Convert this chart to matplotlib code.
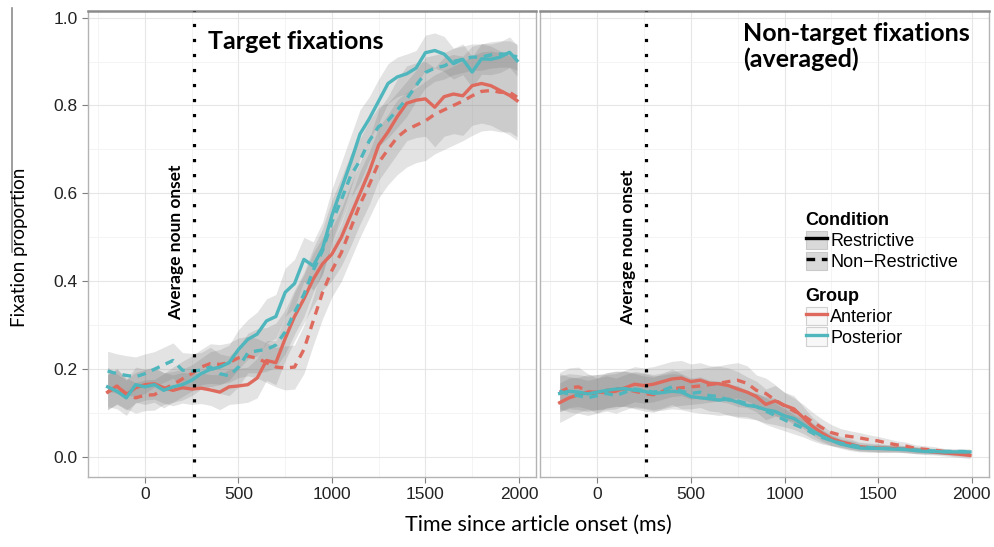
import numpy as np
import matplotlib
matplotlib.use("Agg")
import matplotlib.pyplot as plt
from matplotlib.lines import Line2D
from matplotlib.patches import Rectangle
from matplotlib.legend_handler import HandlerTuple

plt.rcParams["font.family"] = ["Liberation Sans", "DejaVu Sans"]

# time axis (ms since article onset)
times = list(range(-200, 1951, 50)) + [1990]
noun_onset = 260

# ---- target fixations (left panel) ----
tgt_ant_res = [0.148, 0.162, 0.142, 0.158, 0.165, 0.167, 0.158, 0.152, 0.158, 0.155, 0.157, 0.153, 0.148,
               0.160, 0.162, 0.165, 0.180, 0.220, 0.215, 0.270, 0.320, 0.360, 0.405, 0.440, 0.462,
               0.500, 0.550, 0.600, 0.650, 0.710, 0.740, 0.775, 0.805, 0.812, 0.815, 0.796, 0.820,
               0.826, 0.822, 0.845, 0.850, 0.845, 0.834, 0.823, 0.811]
tgt_ant_non = [0.148, 0.160, 0.145, 0.135, 0.141, 0.142, 0.155, 0.165, 0.178, 0.190, 0.205, 0.213, 0.211,
               0.215, 0.226, 0.230, 0.225, 0.215, 0.205, 0.203, 0.205, 0.245, 0.310, 0.375, 0.425,
               0.465, 0.520, 0.575, 0.620, 0.670, 0.700, 0.728, 0.745, 0.755, 0.765, 0.780, 0.790,
               0.800, 0.810, 0.822, 0.832, 0.834, 0.830, 0.830, 0.819]
tgt_pos_res = [0.160, 0.150, 0.135, 0.165, 0.160, 0.165, 0.152, 0.160, 0.165, 0.175, 0.190, 0.200, 0.205,
               0.215, 0.245, 0.268, 0.280, 0.310, 0.320, 0.375, 0.395, 0.450, 0.435, 0.475, 0.550,
               0.610, 0.670, 0.735, 0.770, 0.810, 0.850, 0.865, 0.872, 0.885, 0.920, 0.925, 0.917,
               0.895, 0.905, 0.876, 0.906, 0.905, 0.910, 0.921, 0.902]
tgt_pos_non = [0.196, 0.190, 0.186, 0.183, 0.190, 0.200, 0.210, 0.220, 0.198, 0.196, 0.198, 0.205, 0.190,
               0.185, 0.205, 0.237, 0.242, 0.245, 0.255, 0.285, 0.330, 0.370, 0.425, 0.470, 0.535,
               0.585, 0.640, 0.675, 0.720, 0.752, 0.766, 0.790, 0.815, 0.845, 0.875, 0.885, 0.890,
               0.900, 0.905, 0.910, 0.910, 0.915, 0.917, 0.917, 0.910]

# CI half-widths for the ribbons
tgt_ant_res_ci = [0.04, 0.04, 0.035, 0.035, 0.035, 0.035, 0.035, 0.035, 0.035, 0.035, 0.035, 0.035, 0.04,
                  0.04, 0.04, 0.04, 0.045, 0.045, 0.05, 0.05, 0.055, 0.055, 0.06, 0.06, 0.06,
                  0.065, 0.07, 0.07, 0.075, 0.08, 0.08, 0.085, 0.085, 0.085, 0.085, 0.09, 0.09,
                  0.09, 0.09, 0.09, 0.09, 0.09, 0.09, 0.09, 0.09]
tgt_ant_non_ci = [0.04, 0.04, 0.035, 0.035, 0.035, 0.035, 0.035, 0.04, 0.04, 0.04, 0.04, 0.045, 0.045,
                  0.045, 0.045, 0.045, 0.045, 0.045, 0.045, 0.05, 0.05, 0.055, 0.055, 0.06, 0.06,
                  0.065, 0.07, 0.075, 0.075, 0.08, 0.08, 0.085, 0.085, 0.085, 0.09, 0.09, 0.09,
                  0.09, 0.09, 0.09, 0.09, 0.09, 0.09, 0.09, 0.09]
tgt_pos_res_ci = [0.045, 0.04, 0.04, 0.04, 0.04, 0.04, 0.04, 0.035, 0.035, 0.035, 0.035, 0.04, 0.04,
                  0.04, 0.045, 0.045, 0.05, 0.05, 0.05, 0.055, 0.055, 0.05, 0.055, 0.06, 0.06,
                  0.06, 0.06, 0.055, 0.05, 0.05, 0.045, 0.045, 0.045, 0.04, 0.04, 0.04, 0.04,
                  0.035, 0.035, 0.035, 0.035, 0.035, 0.035, 0.035, 0.035]
tgt_pos_non_ci = [0.045, 0.045, 0.045, 0.045, 0.045, 0.04, 0.04, 0.04, 0.04, 0.04, 0.04, 0.045, 0.045,
                  0.045, 0.045, 0.045, 0.05, 0.05, 0.05, 0.05, 0.05, 0.05, 0.05, 0.05, 0.05,
                  0.05, 0.05, 0.05, 0.045, 0.045, 0.04, 0.04, 0.04, 0.035, 0.035, 0.03, 0.03,
                  0.03, 0.03, 0.03, 0.03, 0.03, 0.03, 0.03, 0.03]

# ---- non-target fixations, averaged (right panel) ----
non_ant_res = [0.124, 0.135, 0.142, 0.148, 0.148, 0.148, 0.150, 0.158, 0.166, 0.163, 0.166, 0.172, 0.178,
               0.180, 0.172, 0.175, 0.168, 0.167, 0.163, 0.155, 0.148, 0.138, 0.120, 0.128, 0.118,
               0.110, 0.090, 0.070, 0.055, 0.042, 0.035, 0.030, 0.024, 0.022, 0.021, 0.020, 0.020,
               0.018, 0.016, 0.014, 0.012, 0.010, 0.008, 0.006, 0.004]
non_ant_non = [0.148, 0.158, 0.160, 0.150, 0.140, 0.152, 0.156, 0.155, 0.150, 0.145, 0.142, 0.150, 0.155,
               0.158, 0.160, 0.162, 0.165, 0.168, 0.172, 0.175, 0.168, 0.152, 0.145, 0.130, 0.117,
               0.105, 0.095, 0.080, 0.067, 0.056, 0.050, 0.047, 0.044, 0.040, 0.037, 0.032, 0.028,
               0.025, 0.020, 0.018, 0.016, 0.013, 0.010, 0.009, 0.008]
non_pos_res = [0.145, 0.150, 0.148, 0.144, 0.148, 0.152, 0.155, 0.156, 0.152, 0.150, 0.145, 0.147, 0.150,
               0.148, 0.138, 0.135, 0.133, 0.130, 0.132, 0.125, 0.118, 0.115, 0.108, 0.104, 0.094,
               0.088, 0.074, 0.060, 0.048, 0.038, 0.030, 0.025, 0.021, 0.020, 0.020, 0.019, 0.018,
               0.017, 0.015, 0.013, 0.013, 0.012, 0.012, 0.012, 0.012]
non_pos_non = [0.150, 0.143, 0.140, 0.135, 0.140, 0.145, 0.140, 0.148, 0.155, 0.152, 0.148, 0.152, 0.160,
               0.150, 0.145, 0.148, 0.140, 0.138, 0.130, 0.128, 0.122, 0.115, 0.105, 0.095, 0.085,
               0.075, 0.066, 0.055, 0.045, 0.038, 0.032, 0.028, 0.024, 0.022, 0.020, 0.020, 0.019,
               0.018, 0.016, 0.015, 0.014, 0.013, 0.013, 0.013, 0.012]

non_ant_res_ci = [0.045, 0.045, 0.04, 0.04, 0.04, 0.04, 0.04, 0.04, 0.04, 0.04, 0.04, 0.04, 0.04,
                  0.04, 0.04, 0.04, 0.04, 0.04, 0.04, 0.04, 0.035, 0.035, 0.035, 0.035, 0.03,
                  0.03, 0.025, 0.02, 0.018, 0.015, 0.012, 0.012, 0.01, 0.01, 0.01, 0.008, 0.008,
                  0.008, 0.008, 0.008, 0.007, 0.007, 0.007, 0.007, 0.007]
non_ant_non_ci = [0.045, 0.045, 0.045, 0.04, 0.04, 0.04, 0.04, 0.04, 0.04, 0.04, 0.04, 0.04, 0.04,
                  0.04, 0.04, 0.04, 0.04, 0.04, 0.04, 0.04, 0.04, 0.035, 0.035, 0.035, 0.03,
                  0.03, 0.025, 0.022, 0.02, 0.018, 0.015, 0.013, 0.012, 0.011, 0.01, 0.01, 0.009,
                  0.009, 0.008, 0.008, 0.008, 0.007, 0.007, 0.007, 0.007]
non_pos_res_ci = [0.04, 0.04, 0.04, 0.04, 0.04, 0.04, 0.04, 0.04, 0.04, 0.04, 0.04, 0.04, 0.04,
                  0.04, 0.035, 0.035, 0.035, 0.035, 0.035, 0.035, 0.03, 0.03, 0.03, 0.03, 0.025,
                  0.025, 0.02, 0.018, 0.015, 0.012, 0.01, 0.01, 0.009, 0.008, 0.008, 0.008, 0.007,
                  0.007, 0.007, 0.006, 0.006, 0.006, 0.006, 0.006, 0.006]
non_pos_non_ci = [0.04, 0.04, 0.04, 0.04, 0.04, 0.04, 0.04, 0.04, 0.04, 0.04, 0.04, 0.04, 0.04,
                  0.04, 0.035, 0.035, 0.035, 0.035, 0.035, 0.035, 0.03, 0.03, 0.03, 0.028, 0.025,
                  0.022, 0.02, 0.018, 0.015, 0.012, 0.01, 0.01, 0.009, 0.008, 0.008, 0.008, 0.007,
                  0.007, 0.007, 0.006, 0.006, 0.006, 0.006, 0.006, 0.006]

RED = "#de6a5e"
TEAL = "#4fb6bd"
txt_font = "Lato"
LW = 2.4
DASH = (0, (2.6, 2.0))

fig = plt.figure(figsize=(9.95, 5.47), dpi=100)
ax1 = fig.add_axes([0.0884, 0.128, 0.450, 0.852])
ax2 = fig.add_axes([0.5427, 0.128, 0.451, 0.852])

panels = [
    (ax1, [(tgt_ant_res, tgt_ant_res_ci, RED, "-"), (tgt_ant_non, tgt_ant_non_ci, RED, "--"),
           (tgt_pos_res, tgt_pos_res_ci, TEAL, "-"), (tgt_pos_non, tgt_pos_non_ci, TEAL, "--")]),
    (ax2, [(non_ant_res, non_ant_res_ci, RED, "-"), (non_ant_non, non_ant_non_ci, RED, "--"),
           (non_pos_res, non_pos_res_ci, TEAL, "-"), (non_pos_non, non_pos_non_ci, TEAL, "--")]),
]

t = np.array(times)
for ax, series in panels:
    for vals, ci, col, ls in series:
        v = np.array(vals)
        c = np.array(ci)
        ax.fill_between(t, v - c, v + c, color="0.45", alpha=0.2, lw=0, zorder=1)
    for vals, ci, col, ls in series:
        if ls == "-":
            ax.plot(t, vals, color=col, lw=LW, solid_joinstyle="round", zorder=3)
        else:
            ax.plot(t, vals, color=col, lw=LW, linestyle=DASH, dash_capstyle="butt", zorder=3)
    ax.axvline(noun_onset, color="black", lw=2.3, linestyle=(0, (1, 3.7)), dash_capstyle="butt", zorder=4)

    ax.set_xlim(-305, 2090)
    ax.set_ylim(-0.045, 1.015)
    ax.set_xticks([0, 500, 1000, 1500, 2000])
    ax.set_xticks([-250, 250, 750, 1250, 1750], minor=True)
    ax.set_yticks([0.0, 0.2, 0.4, 0.6, 0.8, 1.0])
    ax.set_yticks([0.1, 0.3, 0.5, 0.7, 0.9], minor=True)
    ax.grid(which="major", color="#e6e6e6", lw=0.8, zorder=0)
    ax.grid(which="minor", color="#f2f2f2", lw=0.6, zorder=0)
    ax.set_axisbelow(True)
    for side in ["left", "right", "bottom"]:
        ax.spines[side].set_color("#b3b3b3")
        ax.spines[side].set_linewidth(1.0)
    ax.spines["top"].set_color("#8c8c8c")
    ax.spines["top"].set_linewidth(1.8)
    ax.tick_params(which="major", length=4, width=0.8, color="#7f7f7f", labelsize=12.5, labelcolor="#222222")
    ax.tick_params(which="minor", length=0)

ax1.set_yticklabels(["0.0", "0.2", "0.4", "0.6", "0.8", "1.0"])
ax2.tick_params(axis="y", which="both", left=False, labelleft=False)

# annotations
ax1.text(166, 0.49, "Average noun onset", rotation=90, ha="center", va="center",
         fontsize=12.5, fontweight="bold", fontfamily=txt_font)
ax2.text(164, 0.477, "Average noun onset", rotation=90, ha="center", va="center",
         fontsize=12.5, fontweight="bold", fontfamily=txt_font)
ax1.text(338, 0.945, "Target fixations", ha="left", va="center",
         fontsize=18, fontweight="bold", fontfamily=txt_font)
ax2.text(780, 0.99, "Non-target fixations\n(averaged)", ha="left", va="top",
         fontsize=18, fontweight="bold", fontfamily=txt_font, linespacing=1.15)

fig.text(0.02, 0.548, "Fixation proportion", rotation=90, ha="center", va="center",
         fontsize=13.5, fontfamily=txt_font)
fig.text(0.541, 0.04, "Time since article onset (ms)", ha="center", va="center",
         fontsize=15.5, fontfamily=txt_font)

# stray vertical rule at the left edge
fig.add_artist(Line2D([0.012, 0.012], [1 - 8 / 547, 1 - 252 / 547], color="#8c8c8c", lw=1.2))

# legends
key_grey = Rectangle((0, 0), 1, 1, facecolor="#d9d9d9", edgecolor="#c9c9c9", lw=0.8)
key_white = Rectangle((0, 0), 1, 1, facecolor="#f7f7f7", edgecolor="#d0d0d0", lw=0.8)
cond_handles = [(key_grey, Line2D([], [], color="black", lw=LW)),
                (key_grey, Line2D([], [], color="black", lw=LW, linestyle=DASH))]
group_handles = [(key_white, Line2D([], [], color=RED, lw=LW)),
                 (key_white, Line2D([], [], color=TEAL, lw=LW))]

leg_kw = dict(frameon=False, handlelength=1.2, handleheight=1.2, handletextpad=0.15, labelspacing=0.08,
              borderaxespad=0, borderpad=0,
              title_fontproperties={"family": "Liberation Sans", "weight": "bold", "size": 13},
              prop={"family": "Liberation Sans", "size": 13},
              handler_map={tuple: HandlerTuple(ndivide=1, pad=0)})
leg1 = ax2.legend(cond_handles, ["Restrictive", "Non\u2212Restrictive"], title="Condition",
                  loc="upper left", bbox_to_anchor=(0.592, 0.568), **leg_kw)
leg1._legend_box.align = "left"
ax2.add_artist(leg1)
leg2 = ax2.legend(group_handles, ["Anterior", "Posterior"], title="Group",
                  loc="upper left", bbox_to_anchor=(0.592, 0.405), **leg_kw)
leg2._legend_box.align = "left"

fig.savefig("out.png", dpi=100)
